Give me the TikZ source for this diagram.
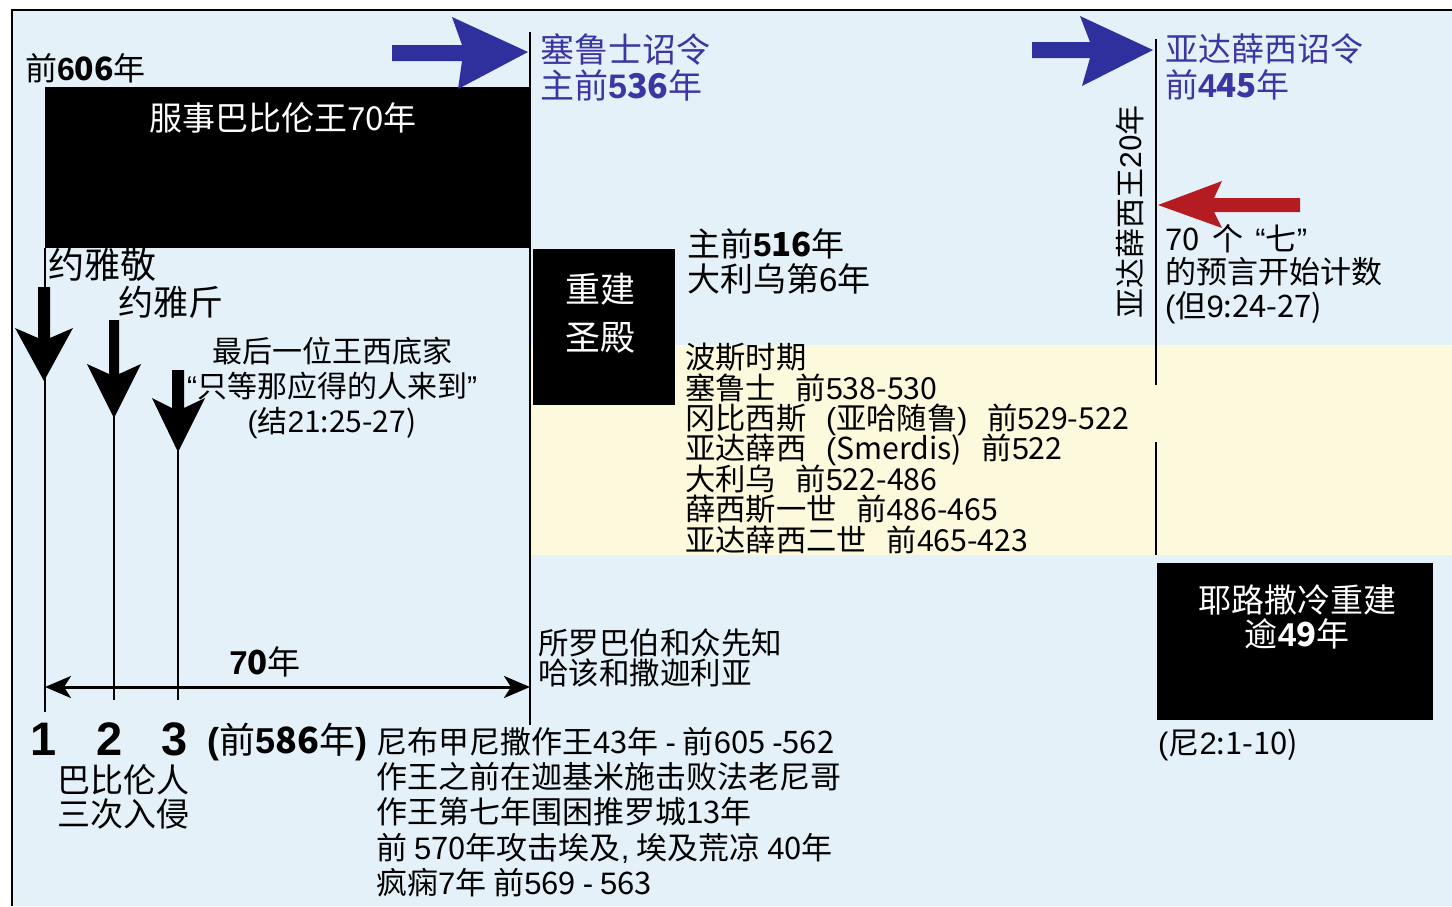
\documentclass[tikz,border=0pt]{standalone}
\usepackage{fontspec}
\setmainfont{Noto Sans CJK SC}
\newfontfamily\cjkf{Noto Sans CJK SC}
\newfontfamily\numfont{Liberation Sans}
\newcommand{\bnum}[1]{{\numfont\bfseries #1}}
\newcommand{\gap}{\hspace*{0.4em}}
\newcommand{\wgap}{\hspace*{0.65em}}
% Latin characters (ASCII and curly quotes) are set in Liberation Sans
\newcount\chcnt
\XeTeXinterchartokenstate=1
\newXeTeXintercharclass\latcls
\chcnt=33
\loop
  \XeTeXcharclass\chcnt=\latcls
  \advance\chcnt by 1
\ifnum\chcnt<127 \repeat
\XeTeXcharclass"201C=\latcls
\XeTeXcharclass"201D=\latcls
\def\tolat{\numfont}
\def\tocjk{\cjkf}
\XeTeXinterchartoks 0 \latcls={\tolat}
\XeTeXinterchartoks 1 \latcls={\tolat}
\XeTeXinterchartoks 2 \latcls={\tolat}
\XeTeXinterchartoks 3 \latcls={\tolat}
\XeTeXinterchartoks 4095 \latcls={\tolat}
\XeTeXinterchartoks \latcls 0={\tocjk}
\XeTeXinterchartoks \latcls 1={\tocjk}
\XeTeXinterchartoks \latcls 2={\tocjk}
\XeTeXinterchartoks \latcls 3={\tocjk}
\XeTeXinterchartoks \latcls 4095={\tocjk}
\usetikzlibrary{arrows.meta}
\definecolor{bgblue}{HTML}{E4F1F9}
\definecolor{bandyel}{HTML}{FDF9DC}
\definecolor{arrblue}{HTML}{2F2F9E}
\definecolor{txtblue}{HTML}{3D35A2}
\definecolor{arrred}{HTML}{B41C22}
\tikzset{
  lbl/.style={inner sep=0pt, align=left, text=black},
  clbl/.style={inner sep=0pt, align=center, text=black},
  bluelbl/.style={inner sep=0pt, align=left, text=txtblue},
  blackbox/.style={fill=black, draw=none, inner sep=0pt},
  boxtxt/.style={inner sep=0pt, align=center, text=white},
  vline/.style={draw=black, line width=2.2pt},
  thinline/.style={draw=black, line width=2pt},
}
\begin{document}
\begin{tikzpicture}[x=1pt,y=-1pt]
\lineskiplimit=-100pt
\useasboundingbox (0,0) rectangle (1452,906);
% background
\fill[white] (0,0) rectangle (1452,906);
\fill[bgblue] (12,10) rectangle (1452,906);
\fill[bandyel] (530,345) rectangle (1452,555);
\draw[line width=1.5pt] (12,906) -- (12,10) -- (1452,10);

% black boxes
\node[blackbox, minimum width=485pt, minimum height=161pt, anchor=north west] (box1) at (45,87) {};
\node[blackbox, minimum width=142pt, minimum height=156pt, anchor=north west] (box2) at (533,249) {};
\node[blackbox, minimum width=276pt, minimum height=157pt, anchor=north west] (box3) at (1157,563) {};

\node[boxtxt, font=\fontsize{33}{36}\selectfont] (box1t) at (283,118) {服事巴比伦王70年};
\node[boxtxt, font=\fontsize{35}{48}\selectfont, anchor=north] (box2t) at (600,273) {重建\\圣殿};
\node[boxtxt, font=\fontsize{33}{34}\selectfont, anchor=north] (box3t) at (1297,585) {耶路撒冷重建\\逾\bnum{49}年};

% coordinates of the time lines
\coordinate (L1top) at (45,248);
\coordinate (L1bot) at (45,712);
\coordinate (L2top) at (114,416);
\coordinate (L2bot) at (114,700);
\coordinate (L3top) at (178,450);
\coordinate (L3bot) at (178,700);
\coordinate (Mtop) at (530,32);
\coordinate (Mbot) at (530,725);
\coordinate (Rtop) at (1156,39);
\coordinate (Rgapa) at (1156,385);
\coordinate (Rgapb) at (1156,442);
\coordinate (Rbot) at (1156,555);
\coordinate (Al) at (45,687);
\coordinate (Ar) at (530,687);

\draw[thinline] (L1top) -- (L1bot);
\draw[thinline] (L2top) -- (L2bot);
\draw[thinline] (L3top) -- (L3bot);
\draw[vline] (Mtop) -- (Mbot);
\draw[vline] (Rtop) -- (Rgapa);
\draw[vline] (Rgapb) -- (Rbot);
\draw[line width=3pt, {Stealth[length=26pt,width=22pt,inset=7pt]}-{Stealth[length=26pt,width=22pt,inset=7pt]}] (Al) -- (Ar);

% black down arrows
\fill[black] (38,287) -- (38,338) -- (15,328) -- (44,381) -- (73,328) -- (50,338) -- (50,287) -- cycle;
\fill[black] (109,320) -- (109,374) -- (87,364) -- (114,418) -- (141,364) -- (119,374) -- (119,320) -- cycle;
\fill[black] (172,370) -- (172,408) -- (152,398) -- (178,452) -- (205,398) -- (184,408) -- (184,370) -- cycle;

% blue arrows
\fill[arrblue] (392,45) -- (462,45) -- (452,17) -- (528,52) -- (458,89) -- (462,61) -- (392,61) -- cycle;
\fill[arrblue] (1032,42) -- (1090,42) -- (1080,16) -- (1153,50) -- (1082,86) -- (1090,58) -- (1032,58) -- cycle;
% red arrow
\fill[arrred] (1300,198) -- (1214,198) -- (1222,181) -- (1158,205) -- (1222,228) -- (1214,212) -- (1300,212) -- cycle;

% labels
\node[lbl, font=\fontsize{32}{34}\selectfont, anchor=west] (t606) at (25,68) {前\bnum{606}年};
\node[bluelbl, font=\fontsize{34}{36}\selectfont, anchor=north west] (cyrus) at (540,33) {塞鲁士诏令\\主前\bnum{536}年};
\node[bluelbl, font=\fontsize{33}{36}\selectfont, anchor=north west] (artax) at (1165,33) {亚达薛西诏令\\前\bnum{445}年};
\node[lbl, font=\fontsize{30}{30}\selectfont, rotate=90] (artax20) at (1130,212) {亚达薛西王20年};
\node[lbl, font=\fontsize{31}{33.5}\selectfont, anchor=north west] (seventy) at (1165,224) {70\gap 个\gap “七”\\的预言开始计数\\(但9:24-27)};
\node[lbl, font=\fontsize{33}{35}\selectfont, anchor=north west] (d516) at (687,228) {主前\bnum{516}年\\大利乌第6年};
\node[lbl, font=\fontsize{30.3}{30.4}\selectfont, anchor=north west] (persia) at (685,343) {波斯时期\\塞鲁士\wgap 前538-530\\冈比西斯\wgap (亚哈随鲁)\wgap 前529-522\\亚达薛西\wgap (Smerdis)\wgap 前522\\大利乌\wgap 前522-486\\薛西斯一世\wgap 前486-465\\亚达薛西二世\wgap 前465-423};
\node[lbl, font=\fontsize{36}{36}\selectfont, anchor=west] (jehoiakim) at (48,265) {约雅敬};
\node[lbl, font=\fontsize{35}{35}\selectfont, anchor=west] (jehoiachin) at (118,302) {约雅斤};
\node[clbl, font=\fontsize{30}{35}\selectfont, anchor=north] (zedekiah) at (332,337) {最后一位王西底家\\“只等那应得的人来到”\\(结21:25-27)};
\node[lbl, font=\fontsize{30.5}{30}\selectfont, anchor=north west] (zerub) at (538,628) {所罗巴伯和众先知\\哈该和撒迦利亚};
\node[clbl, font=\fontsize{33}{33}\selectfont] (yr70) at (265,662) {\bnum{70}年};
\node[clbl, font=\fontsize{47}{47}\selectfont] (n1) at (44,739) {\bnum{1}};
\node[clbl, font=\fontsize{47}{47}\selectfont] (n2) at (110,739) {\bnum{2}};
\node[clbl, font=\fontsize{47}{47}\selectfont] (n3) at (175,739) {\bnum{3}};
\node[lbl, font=\fontsize{36}{36}\selectfont, anchor=west] (bc586) at (207,742) {\bnum{(}前\bnum{586}年\bnum{)}};
\node[lbl, font=\fontsize{31}{35.2}\selectfont, anchor=north west] (nebu) at (376,727) {尼布甲尼撒作王43年 - 前605 -562\\作王之前在迦基米施击败法老尼哥\\作王第七年围困推罗城13年\\前 570年攻击埃及, 埃及荒凉 40年\\疯痫7年 前569 - 563};
\node[lbl, font=\fontsize{33}{34}\selectfont, anchor=north west] (invade) at (57,764) {巴比伦人\\三次入侵};
\node[lbl, font=\fontsize{31}{31}\selectfont, anchor=west] (neh) at (1158,745) {(尼2:1-10)};
\end{tikzpicture}
\end{document}
